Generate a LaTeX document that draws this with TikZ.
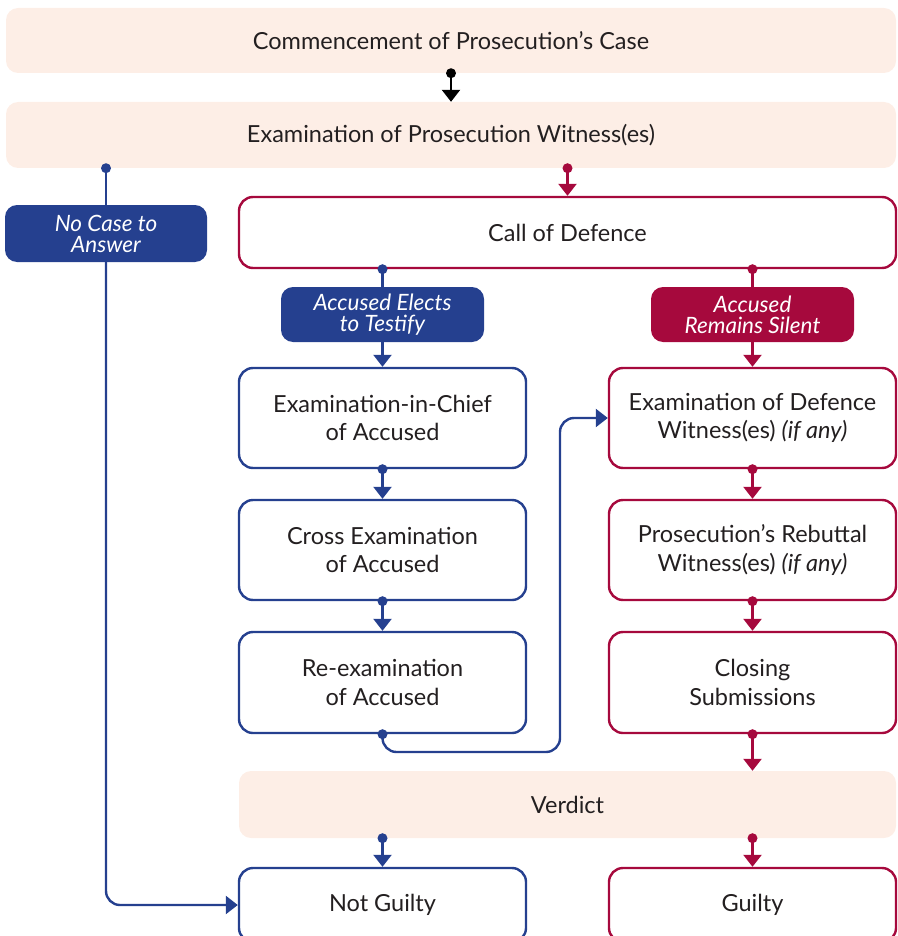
\documentclass[tikz,border=0pt]{standalone}
\usepackage{fontspec}
\setmainfont{Lato}
\usetikzlibrary{arrows.meta}
\definecolor{cblue}{HTML}{25408F}
\definecolor{cred}{HTML}{A6093D}
\definecolor{peach}{HTML}{FDEEE6}
\definecolor{ink}{HTML}{231F20}
\tikzset{
  peachbox/.style={fill=peach, rounded corners=12pt, text=ink, align=center, inner sep=0pt, minimum width=890pt},
  bluebox/.style={draw=cblue, line width=2.4pt, fill=white, rounded corners=14pt, text=ink, align=center, inner sep=0pt, minimum width=287pt, minimum height=100pt},
  redbox/.style={bluebox, draw=cred},
  tag/.style={rounded corners=12pt, text=white, align=center, inner sep=0pt, minimum width=203pt, minimum height=55pt, font=\fontsize{22.5}{21}\selectfont\itshape},
  bluetag/.style={tag, fill=cblue},
  redtag/.style={tag, fill=cred},
  conn/.style={line width=2.4pt, -{Triangle[width=18pt,length=12pt]}},
  bconn/.style={conn, color=cblue},
  rconn/.style={conn, color=cred},
  kconn/.style={conn, color=black},
}
\begin{document}
\begin{tikzpicture}[x=1pt,y=-1pt, font=\fontsize{23.5}{28.5}\selectfont]
\useasboundingbox (0,0) rectangle (897,936);
\clip (0,0) rectangle (897,936);
% nodes
\node[peachbox, minimum height=65pt] (commence) at (451,40.5) {Commencement of Prosecution’s Case};
\node[peachbox, minimum height=66pt] (examp) at (451,135) {Examination of Prosecution Witness(es)};
\node[bluetag, minimum width=202pt, minimum height=57pt] (nocase) at (106,233.5) {No Case to\\Answer};
\node[redbox, minimum width=657pt, minimum height=71pt] (call) at (567.5,232.5) {Call of Defence};
\node[bluetag] (elect) at (382.5,314.5) {Accused Elects\\to Testify};
\node[redtag] (silent) at (752.5,314.5) {Accused\\Remains Silent};
\node[bluebox] (chief) at (382.5,418) {Examination-in-Chief\\of Accused};
\node[bluebox] (cross) at (382.5,550) {Cross Examination\\of Accused};
\node[bluebox, minimum height=101pt] (reexam) at (382.5,682.5) {Re-examination\\of Accused};
\node[redbox] (defw) at (752.5,418) {Examination of Defence\\Witness(es) \textit{(if any)}};
\node[redbox] (rebut) at (752.5,550) {Prosecution’s Rebuttal\\Witness(es) \textit{(if any)}};
\node[redbox, minimum height=101pt] (closing) at (752.5,682.5) {Closing\\Submissions};
\node[peachbox, minimum width=657pt, minimum height=67pt] (verdict) at (567.5,804.5) {Verdict};
\node[bluebox, minimum height=74pt] (notg) at (382.5,905) {Not Guilty};
\node[redbox, minimum height=74pt] (guilty) at (752.5,905) {Guilty};
\coordinate (jx) at (560,752);
% connectors
\draw[kconn] (commence.south) -- (examp.north);
\fill[black] (commence.south) circle (5pt);
\draw[rconn] (examp.south -| call.north) -- (call.north);
\fill[cred] (examp.south -| call.north) circle (5pt);
\draw[line width=2.4pt, cblue] (examp.south -| nocase.north) -- (nocase.north);
\fill[cblue] (examp.south -| nocase.north) circle (5pt);
\draw[bconn, rounded corners=14pt] (nocase.south) |- (notg.west);
\draw[line width=2.4pt, cblue] (call.south -| elect.north) -- (elect.north);
\fill[cblue] (call.south -| elect.north) circle (5pt);
\draw[bconn] (elect.south) -- (chief.north);
\draw[line width=2.4pt, cred] (call.south -| silent.north) -- (silent.north);
\fill[cred] (call.south -| silent.north) circle (5pt);
\draw[rconn] (silent.south) -- (defw.north);
\draw[bconn] (chief.south) -- (cross.north);
\fill[cblue] (chief.south) circle (5pt);
\draw[bconn] (cross.south) -- (reexam.north);
\fill[cblue] (cross.south) circle (5pt);
\draw[rconn] (defw.south) -- (rebut.north);
\fill[cred] (defw.south) circle (5pt);
\draw[rconn] (rebut.south) -- (closing.north);
\fill[cred] (rebut.south) circle (5pt);
\draw[bconn, rounded corners=14pt] (reexam.south) |- (jx) |- (defw.west);
\fill[cblue] (reexam.south) circle (5pt);
\draw[rconn] (closing.south) -- (closing.south |- verdict.north);
\fill[cred] (closing.south) circle (5pt);
\draw[bconn] (verdict.south -| notg.north) -- (notg.north);
\fill[cblue] (verdict.south -| notg.north) circle (5pt);
\draw[rconn] (verdict.south -| guilty.north) -- (guilty.north);
\fill[cred] (verdict.south -| guilty.north) circle (5pt);
\end{tikzpicture}
\end{document}
